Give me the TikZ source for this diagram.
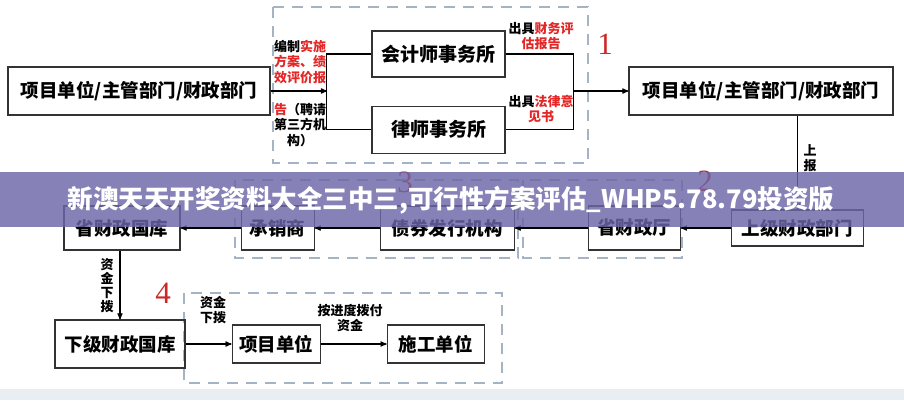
\documentclass[tikz,border=0pt]{standalone}
\usepackage{fontspec}
\setmainfont{Noto Sans CJK SC}
\newfontfamily\numfont{Liberation Serif}
\usetikzlibrary{arrows,positioning}
\definecolor{dashgray}{RGB}{165,180,196}
\definecolor{bannerpurple}{RGB}{108,102,166}
\definecolor{lblred}{RGB}{228,38,38}
\definecolor{numred}{RGB}{205,40,40}
\definecolor{bottomgray}{RGB}{233,238,242}

\begin{document}
\begin{tikzpicture}[x=1pt,y=-1pt,>=stealth',auto]

	\tikzstyle{unit}=[rectangle,draw=black!80,line width=1.1pt,inner sep=0pt,font=\bfseries\fontsize{18.5}{18.5}\selectfont]
	\tikzstyle{flow}=[line width=1.2pt]
	\tikzstyle{note}=[align=center,inner sep=0pt,font=\bfseries\fontsize{13}{15.5}\selectfont]
	\tikzstyle{group}=[draw=dashgray,line width=1.3pt,dash pattern=on 11pt off 8pt]
	\tikzstyle{tag}=[text=numred,inner sep=0pt,font=\numfont\fontsize{31}{31}\selectfont]

	\useasboundingbox (0,0) rectangle (904,400);
	\fill[white] (0,0) rectangle (904,400);
	\fill[bottomgray] (0,389) rectangle (904,400);

	% dashed groups
	\draw[group] (273,7) rectangle (588,163);
	\draw[group] (235,180) rectangle (518,258);
	\draw[group] (523,180) rectangle (682,258);
	\draw[group] (184,293) rectangle (502,383);

	% group 1
	\node [unit,minimum width=262pt,minimum height=48pt] (dept) at (139,91) {项目单位/主管部门/财政部门};
	\node [unit,minimum width=133pt,minimum height=46pt,font=\bfseries\fontsize{19}{19}\selectfont] (kjs) at (438.5,54) {会计师事务所};
	\node [unit,minimum width=133pt,minimum height=47pt,font=\bfseries\fontsize{19}{19}\selectfont] (lss) [below=28pt of kjs] {律师事务所};
	\node [unit,minimum width=264pt,minimum height=48pt] (dept2) at (761,91) {项目单位/主管部门/财政部门};

	\coordinate (split) at (327,91);
	\coordinate (merge) at (573,91);
	\draw[flow,->] (dept.east) -- (split);
	\draw[flow] (kjs.west) -- ++(-45,0) |- (lss.west);
	\draw[flow] (kjs.east) -- ++(68,0) |- (lss.east);
	\draw[flow,->] (merge) -- (dept2.west);

	\node [note] (plan) at (300,62) {编制\textcolor{lblred}{实施}\\\textcolor{lblred}{方案、绩}\\\textcolor{lblred}{效评价报}};
	\node [note] (hire) at (300,125) {\textcolor{lblred}{告}（聘请\\第三方机\\构）};
	\node [note] (rep1) at (541,36) {出具\textcolor{lblred}{财务评}\\\textcolor{lblred}{估报告}};
	\node [note] (rep2) at (541,109) {出具\textcolor{lblred}{法律意}\\\textcolor{lblred}{见书}};
	\node [tag] (n1) at (605,44) {1};

	% group 2 and 3
	\node [unit,minimum width=116pt,minimum height=44pt] (sgk) at (122,228) {省财政国库};
	\node [unit,minimum width=73pt,minimum height=44pt] (cxs) [right=60pt of sgk] {承销商};
	\node [unit,minimum width=134pt,minimum height=44pt] (zqfx) [right=65pt of cxs] {债券发行机构};
	\node [unit,minimum width=92pt,minimum height=44pt] (sczt) [right=73pt of zqfx] {省财政厅};
	\node [unit,minimum width=132pt,minimum height=36pt] (sjcz) [right=50pt of sczt] {上级财政部门};

	\draw[flow,->] (sjcz.north |- dept2.south) -- (sjcz.north);
	\node [note] (up) at (810,158) {上\\报};
	\draw[flow,->] (sjcz.west) -- (sczt.east);
	\draw[flow,->] (sczt.west) -- (zqfx.east);
	\draw[flow,->] (zqfx.west) -- (cxs.east);
	\draw[flow,->] (cxs.west) -- (sgk.east);
	\node [tag] (n3) at (405,182) {3};
	\node [tag] (n2) at (705,181) {2};

	% group 4
	\node [unit,minimum width=130pt,minimum height=48pt] (xgk) at (120,344) {下级财政国库};
	\node [unit,minimum width=88pt,minimum height=38pt] (xmdw) [right=46pt of xgk] {项目单位};
	\node [unit,minimum width=97pt,minimum height=38pt] (sgdw) [right=66pt of xmdw] {施工单位};

	\draw[flow,->] (sgk.south -| xgk.north) -- (xgk.north);
	\node [note,font=\bfseries\fontsize{13}{14}\selectfont] (fund1) at (107,286) {资\\金\\下\\拨};
	\draw[flow,->] (xgk.east) -- (xmdw.west);
	\draw[flow,->] (xmdw.east) -- (sgdw.west);
	\node [note] (fund2) at (213,310) {资金\\下拨};
	\node [note] (pay) at (350,318) {按进度拨付\\资金};
	\node [tag] (n4) at (163,293) {4};

	% banner
	\fill[bannerpurple,opacity=0.82] (0,172) rectangle (904,227);
	\node [text=white,font=\bfseries\fontsize{25.5}{25.5}\selectfont] (title) at (451,200) {新澳天天开奖资料大全三中三,可行性方案评估\_WHP5.78.79投资版};

\end{tikzpicture}
\end{document}
